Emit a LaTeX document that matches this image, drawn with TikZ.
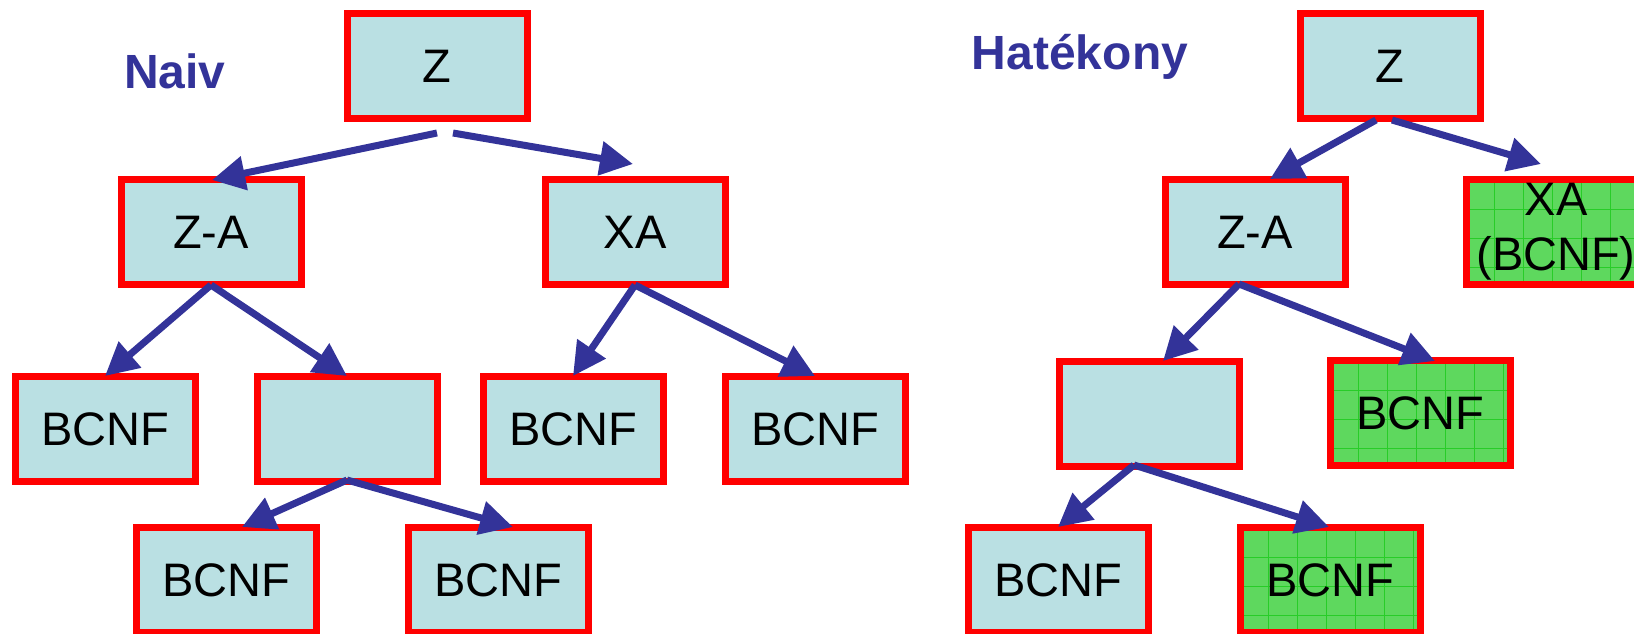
\documentclass[tikz,border=0pt]{standalone}
\usepackage{fontspec}
\setmainfont{Liberation Sans}
\usetikzlibrary{arrows.meta,calc}
\definecolor{boxblue}{RGB}{186,224,227}
\definecolor{boxgreen}{RGB}{94,216,94}
\definecolor{gridgreen}{RGB}{40,204,40}
\definecolor{arrblue}{RGB}{51,51,153}
\begin{document}
\begin{tikzpicture}[x=1pt,y=-1pt,
  treebox/.style={draw=red, line width=7pt, fill=boxblue, minimum width=180pt, minimum height=105pt,
    inner sep=0pt, outer sep=0pt, text=black, align=center, font=\fontsize{47}{55}\selectfont},
  greenbox/.style={treebox, fill=boxgreen,
    path picture={
      \foreach \i in {0,...,5}{
        \draw[gridgreen, line width=0.9pt] ($(path picture bounding box.north west)+(28.5+29*\i,-10)$) -- ($(path picture bounding box.north west)+(28.5+29*\i,120)$);
      }
      \foreach \j in {0,...,3}{
        \draw[gridgreen, line width=0.9pt] ($(path picture bounding box.north west)+(-10,29.5+29*\j)$) -- ($(path picture bounding box.north west)+(200,29.5+29*\j)$);
      }
    }},
  title/.style={text=arrblue, font=\fontsize{48}{56}\selectfont\bfseries, anchor=base, inner sep=0pt},
  arr/.style={draw=arrblue, line width=7pt, -{Triangle[length=33pt,width=33pt]}}
]
\useasboundingbox (0,0) rectangle (1634,633);
\clip (0,0) rectangle (1634,633);

% Left tree: Naiv
\node[title] (naiv) at (175,88) {Naiv};
\node[treebox] (z1) at (437,66) {Z};
\node[treebox] (za1) at (211,232) {Z-A};
\node[treebox] (xa1) at (635,232) {XA};
\node[treebox] (b1) at (105,429) {BCNF};
\node[treebox] (e1) at (347,429) {};
\node[treebox] (b2) at (573,429) {BCNF};
\node[treebox] (b3) at (815,429) {BCNF};
\node[treebox] (b4) at (226,580) {BCNF};
\node[treebox] (b5) at (498,580) {BCNF};

\draw[arr] ($(z1)+(0,67)$) -- ($(za1)+(1,-52)$);
\draw[arr] ($(z1)+(16,67)$) -- ($(xa1)+(-2,-68)$);
\draw[arr] ($(za1)+(0,53)$) -- ($(b1)+(0,-53)$);
\draw[arr] ($(za1)+(0,53)$) -- ($(e1)+(0,-53)$);
\draw[arr] ($(xa1)+(0,53)$) -- ($(b2)+(0,-53)$);
\draw[arr] ($(xa1)+(0,53)$) -- ($(b3)+(0,-53)$);
\draw[arr] ($(e1)+(0,51)$) -- ($(b4)+(16,-53)$);
\draw[arr] ($(e1)+(0,51)$) -- ($(b5)+(15,-53)$);

% Right tree: Hatekony
\node[title] (hat) at (1080,69) {Hatékony};
\node[treebox] (z2) at (1390,66) {Z};
\node[treebox] (za2) at (1255,232) {Z-A};
\node[greenbox] (xa2) at (1556,232) {XA\\(BCNF)};
\node[treebox] (e2) at (1149,414) {};
\node[greenbox] (g1) at (1420,413) {BCNF};
\node[treebox] (b6) at (1058,580) {BCNF};
\node[greenbox] (g2) at (1330,580) {BCNF};

\draw[arr] ($(z2)+(-14,54)$) -- ($(za2)+(15,-53)$);
\draw[arr] ($(z2)+(2,54)$) -- ($(xa2)+(-15,-68)$);
\draw[arr] ($(za2)+(-16,52)$) -- ($(e2)+(14,-53)$);
\draw[arr] ($(za2)+(-16,52)$) -- ($(g1)+(15,-52)$);
\draw[arr] ($(e2)+(-15,51)$) -- ($(b6)+(0,-53)$);
\draw[arr] ($(e2)+(-15,51)$) -- ($(g2)+(-1,-53)$);
\end{tikzpicture}
\end{document}
